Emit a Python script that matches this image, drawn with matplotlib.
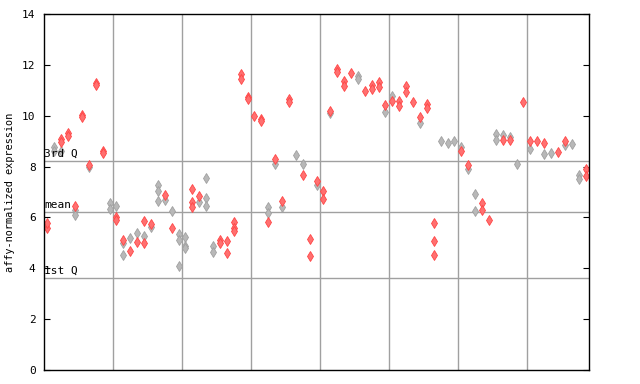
import matplotlib
matplotlib.use("Agg")
import matplotlib.pyplot as plt

# sample index / expression value
gray_idx = [2, 2, 3, 5, 5, 7, 10, 10, 11, 12, 12, 13, 14, 15, 16, 17, 17, 17, 18, 19,
            20, 20, 20, 21, 21, 21, 23, 24, 24, 24, 25, 25, 33, 33, 34, 35, 37, 38,
            40, 42, 46, 46, 50, 51, 55, 58, 59, 60, 61, 62, 63, 63, 66, 66, 67, 68,
            69, 71, 73, 74, 76, 77, 78, 78]
gray_val = [8.78, 8.62, 8.62, 6.28, 6.11, 8.00, 6.58, 6.33, 6.43, 4.98, 4.52, 5.19, 5.39,
            5.27, 5.61, 7.27, 7.05, 6.66, 6.68, 6.24, 5.35, 5.11, 4.09, 5.24, 4.89, 4.80,
            6.62, 7.55, 6.78, 6.46, 4.88, 4.65, 6.42, 6.17, 8.10, 6.42, 8.45, 8.10, 7.29,
            10.09, 11.57, 11.44, 10.13, 10.79, 9.71, 9.02, 8.93, 8.99, 8.78, 7.90, 6.92,
            6.24, 9.28, 9.04, 9.25, 9.15, 8.10, 8.69, 8.49, 8.52, 8.85, 8.89, 7.68, 7.51]

red_idx = [1, 1, 3, 3, 4, 4, 5, 6, 6, 7, 8, 8, 9, 9, 11, 11, 12, 13, 14, 15, 15, 16,
           18, 19, 22, 22, 22, 23, 26, 26, 27, 27, 28, 28, 28, 29, 29, 30, 30, 31, 32,
           32, 33, 34, 35, 36, 36, 38, 39, 39, 40, 41, 41, 42, 43, 43, 44, 44, 45, 47,
           48, 48, 49, 49, 50, 51, 52, 52, 53, 53, 54, 55, 56, 56, 57, 57, 57, 61, 62,
           64, 64, 65, 67, 68, 70, 71, 72, 73, 75, 76, 79, 79]
red_val = [5.57, 5.80, 9.07, 8.97, 9.33, 9.21, 6.43, 10.04, 9.93, 8.06, 11.30, 11.22,
           8.62, 8.52, 6.00, 5.90, 5.11, 4.68, 5.05, 5.86, 4.99, 5.74, 6.89, 5.57, 7.13,
           6.62, 6.42, 6.85, 5.12, 4.98, 5.07, 4.60, 5.82, 5.57, 5.45, 11.64, 11.45,
           10.75, 10.64, 10.00, 9.89, 9.78, 5.82, 8.28, 6.66, 10.65, 10.55, 7.67, 5.14,
           4.48, 7.42, 7.05, 6.72, 10.20, 11.84, 11.73, 11.38, 11.18, 11.67, 10.98,
           11.22, 11.05, 11.32, 11.11, 10.41, 10.56, 10.56, 10.37, 11.18, 10.92, 10.54,
           9.93, 10.46, 10.30, 5.78, 5.07, 4.52, 8.60, 8.07, 6.57, 6.29, 5.90, 9.06, 9.06,
           10.53, 9.02, 9.02, 8.93, 8.56, 9.02, 7.90, 7.64]

group_bounds = [10.5, 20.5, 30.5, 40.5, 50.5, 60.5, 70.5]
q_lines = [("3rd Q", 8.23), ("mean", 6.21), ("1st Q", 3.62)]

plt.rcParams["font.family"] = ["DejaVu Sans Mono"]

fig = plt.figure(figsize=(6.4, 3.84), dpi=100)
ax = fig.add_axes([44 / 640, 14 / 384, 545 / 640, 356 / 384])

for b in group_bounds:
    ax.axvline(b, color="#a0a0a0", lw=1, zorder=1)
for name, v in q_lines:
    ax.axhline(v, color="#a0a0a0", lw=1, zorder=1)
    ax.text(0.55, v + 0.08, name, fontsize=8, ha="left", va="bottom", zorder=3)

ax.plot(gray_idx, gray_val, ls="none", marker="d", ms=5, mfc="#b8b8b8",
        mec="#a0a0a0", mew=0.6, zorder=2)
ax.plot(red_idx, red_val, ls="none", marker="d", ms=5, mfc="#ff7070",
        mec="#ff4444", mew=0.6, zorder=2)

ax.set_xlim(0.5, 79.5)
ax.set_ylim(0, 14)
ax.set_xticks([])
ax.set_yticks(range(0, 15, 2))
ax.tick_params(axis="y", direction="in", length=4, labelsize=8, right=True, pad=6)
for s in ax.spines.values():
    s.set_color("black")
    s.set_linewidth(1)
ax.set_ylabel("affy-normalized expression", fontsize=7.4, labelpad=5)

fig.savefig("out.png", dpi=100)
